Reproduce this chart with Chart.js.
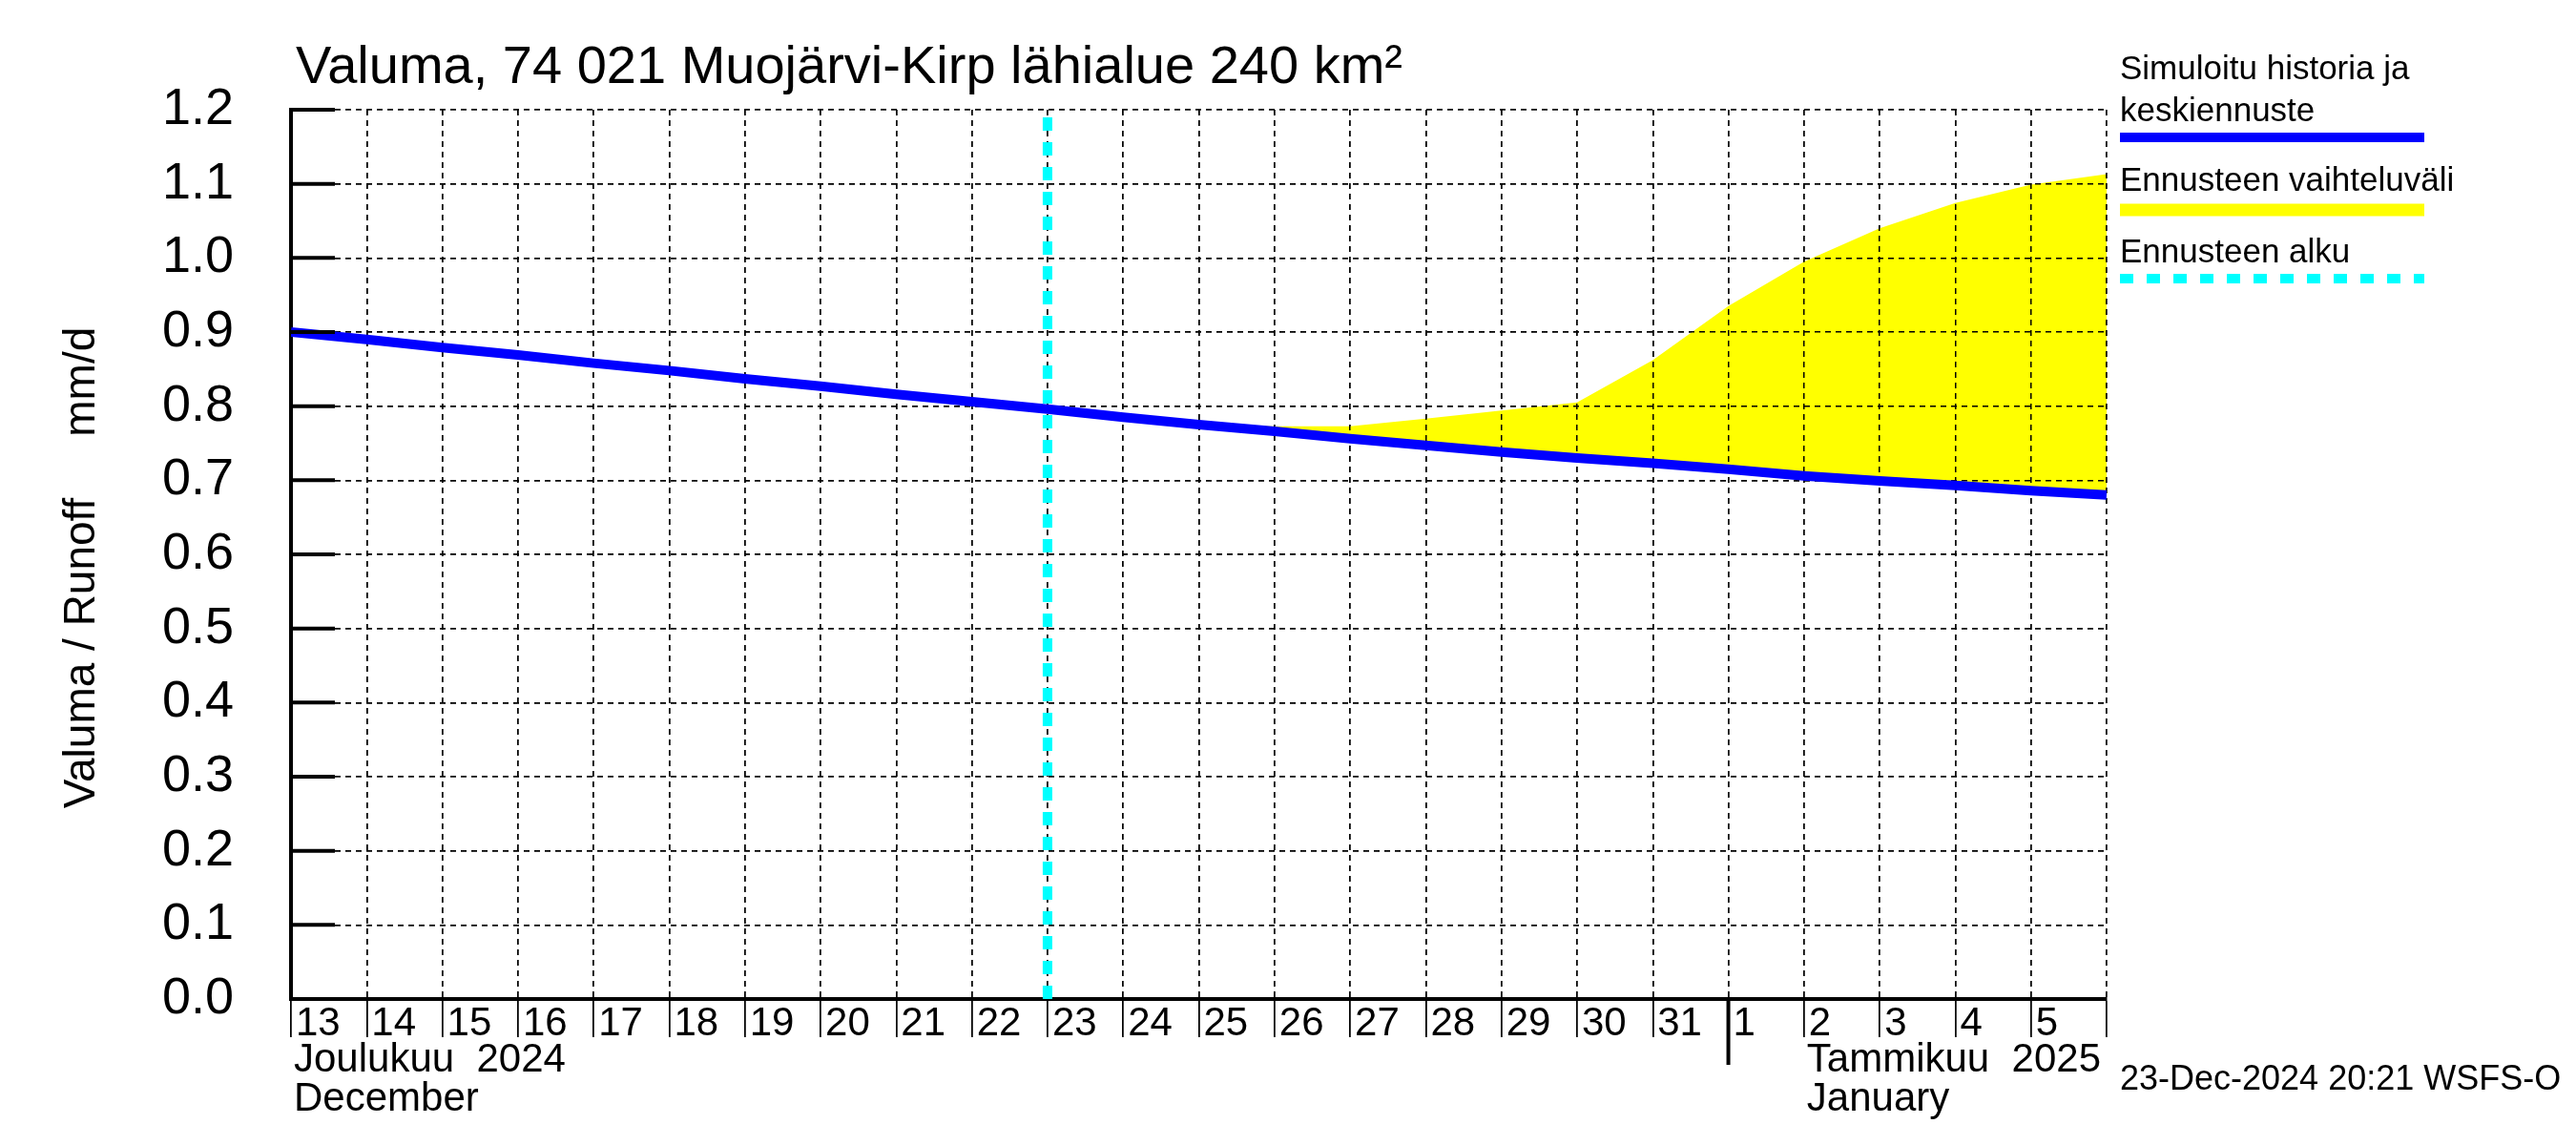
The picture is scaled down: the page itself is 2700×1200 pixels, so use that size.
<!DOCTYPE html>
<html>
<head>
<meta charset="utf-8">
<script src="https://cdn.jsdelivr.net/npm/chart.js@4.4.1/dist/chart.umd.min.js"></script>
<style>
  html, body { margin: 0; padding: 0; background: #fff; }
  #wrap { width: 2700px; height: 1200px; }
</style>
</head>
<body>
<div id="wrap"><canvas id="runoff" width="2700" height="1200"></canvas></div>
<script>
// day labels, 13 Dec 2024 .. 5 Jan 2025 (index 0 = 13 Dec)
var days = ['13','14','15','16','17','18','19','20','21','22','23','24','25','26','27','28','29','30','31','1','2','3','4','5'];

// simulated history + mean forecast, mm/d, one value per day 13 Dec .. 6 Jan
var simulated = [0.900, 0.890, 0.879, 0.869, 0.858, 0.848, 0.837, 0.827, 0.816, 0.806,
                 0.796, 0.785, 0.775, 0.766, 0.756, 0.747, 0.738, 0.730, 0.723, 0.715,
                 0.706, 0.699, 0.693, 0.686, 0.680];

// upper edge of the forecast range, from 25 Dec onwards
var rangeStart = 12;
var rangeUpper = [0.775, 0.773, 0.773, 0.783, 0.794, 0.805, 0.862, 0.935, 0.995, 1.040, 1.074, 1.099, 1.113];

var forecastStart = 10;   // 23 Dec
var newYear = 19;         // 1 Jan
var yMax = 1.2;

var FONT = '"Liberation Sans", Arial, sans-serif';

function points(arr, offset) {
    return arr.map(function (v, i) { return { x: i + offset, y: v }; });
}

// Decorations: grid over the yellow band, texts, legend, axis ticks
var decorations = {
    id: 'decorations',
    afterDatasetDraw: function (chart, args) {
        if (args.index === 0) {
            chart.scales.x.drawGrid(chart.chartArea);
            chart.scales.y.drawGrid(chart.chartArea);
        }
    },
    afterDraw: function (chart) {
        var ctx = chart.ctx;
        var xs = chart.scales.x, ys = chart.scales.y;
        var area = chart.chartArea;
        ctx.save();
        ctx.fillStyle = '#000';
        ctx.strokeStyle = '#000';

        // inward ticks on the value axis
        ctx.lineWidth = 4;
        for (var t = 0; t <= 12; t++) {
            var py = ys.getPixelForValue(t / 10);
            ctx.beginPath();
            ctx.moveTo(area.left, py);
            ctx.lineTo(area.left + 46, py);
            ctx.stroke();
        }

        // month separator
        var px = xs.getPixelForValue(newYear);
        ctx.beginPath();
        ctx.moveTo(px, area.bottom);
        ctx.lineTo(px, area.bottom + 69);
        ctx.stroke();

        // title
        ctx.textBaseline = 'alphabetic';
        ctx.textAlign = 'left';
        ctx.font = '56px ' + FONT;
        ctx.fillText('Valuma, 74 021 Muojärvi-Kirp lähialue 240 km²', 310, 87);

        // y tick labels
        ctx.font = '54px ' + FONT;
        ctx.textAlign = 'right';
        ctx.textBaseline = 'middle';
        for (var k = 0; k <= 12; k++) {
            ctx.fillText((k / 10).toFixed(1), 245, ys.getPixelForValue(k / 10));
        }

        // y title
        ctx.save();
        ctx.translate(86, 595);
        ctx.rotate(-Math.PI / 2);
        ctx.textAlign = 'center';
        ctx.textBaseline = 'middle';
        ctx.font = '46px ' + FONT;
        ctx.fillText('Valuma / Runoff     mm/d', 0, 0);
        ctx.restore();

        // x tick labels
        ctx.font = '42px ' + FONT;
        ctx.textAlign = 'left';
        ctx.textBaseline = 'alphabetic';
        days.forEach(function (d, i) {
            ctx.fillText(d, xs.getPixelForValue(i) + 5, 1085);
        });
        ctx.fillText('Joulukuu  2024', xs.getPixelForValue(0) + 3, 1123);
        ctx.fillText('December', xs.getPixelForValue(0) + 3, 1164);
        ctx.fillText('Tammikuu  2025', xs.getPixelForValue(newYear + 1) + 3, 1123);
        ctx.fillText('January', xs.getPixelForValue(newYear + 1) + 3, 1164);

        // timestamp
        ctx.font = '36px ' + FONT;
        ctx.fillText('23-Dec-2024 20:21 WSFS-O', 2222, 1142);

        // legend
        var lx0 = 2222, lx1 = 2541;
        ctx.font = '35px ' + FONT;
        ctx.fillText('Simuloitu historia ja', lx0, 83);
        ctx.fillText('keskiennuste', lx0, 127);
        ctx.fillText('Ennusteen vaihteluväli', lx0, 200);
        ctx.fillText('Ennusteen alku', lx0, 275);

        ctx.lineCap = 'butt';
        ctx.strokeStyle = '#0000ff';
        ctx.lineWidth = 10;
        ctx.beginPath(); ctx.moveTo(lx0, 144); ctx.lineTo(lx1, 144); ctx.stroke();

        ctx.strokeStyle = '#ffff00';
        ctx.lineWidth = 13;
        ctx.beginPath(); ctx.moveTo(lx0, 220); ctx.lineTo(lx1, 220); ctx.stroke();

        ctx.strokeStyle = '#00ffff';
        ctx.lineWidth = 10;
        ctx.setLineDash([14, 14]);
        ctx.beginPath(); ctx.moveTo(lx0, 292); ctx.lineTo(lx1, 292); ctx.stroke();
        ctx.restore();
    }
};

var ctx = document.getElementById('runoff');

var chartData = {
    datasets: [{
        // forecast range, filled down to the mean line
        data: points(rangeUpper, rangeStart),
        borderWidth: 0,
        borderColor: '#ffff00',
        backgroundColor: '#ffff00',
        fill: 1,
        pointRadius: 0,
        order: 2
    }, {
        data: points(simulated, 0),
        borderColor: '#0000ff',
        borderWidth: 10,
        pointRadius: 0,
        fill: false,
        order: 0
    }, {
        data: [{ x: forecastStart, y: 0 }, { x: forecastStart, y: yMax }],
        borderColor: '#00ffff',
        borderWidth: 10,
        borderDash: [14, 12],
        borderCapStyle: 'butt',
        pointRadius: 0,
        fill: false,
        order: 1
    }]
};

var chartOptions = {
    responsive: false,
    devicePixelRatio: 1,
    animation: false,
    layout: { padding: { left: 305, top: 115, right: 492, bottom: 153 } },
    plugins: { legend: { display: false }, tooltip: { enabled: false }, title: { display: false } },
    scales: {
        x: {
            type: 'linear',
            min: 0,
            max: days.length,
            afterFit: function (s) { s.height = 0; },
            ticks: { display: false, stepSize: 1 },
            grid: { color: '#000', lineWidth: 1.5, drawTicks: true, tickLength: 40, tickWidth: 1.5, tickColor: '#000' },
            border: { display: true, color: '#000', width: 4, dash: [6, 5] }
        },
        y: {
            min: 0,
            max: yMax,
            afterFit: function (s) { s.width = 0; },
            ticks: { display: false, stepSize: 0.1 },
            grid: { color: '#000', lineWidth: 1.5, drawTicks: false },
            border: { display: true, color: '#000', width: 4, dash: [6, 5] }
        }
    }
};

var runoffChart = new Chart(ctx, {
    type: 'line',
    data: chartData,
    options: chartOptions,
    plugins: [decorations]
});
</script>
</body>
</html>
